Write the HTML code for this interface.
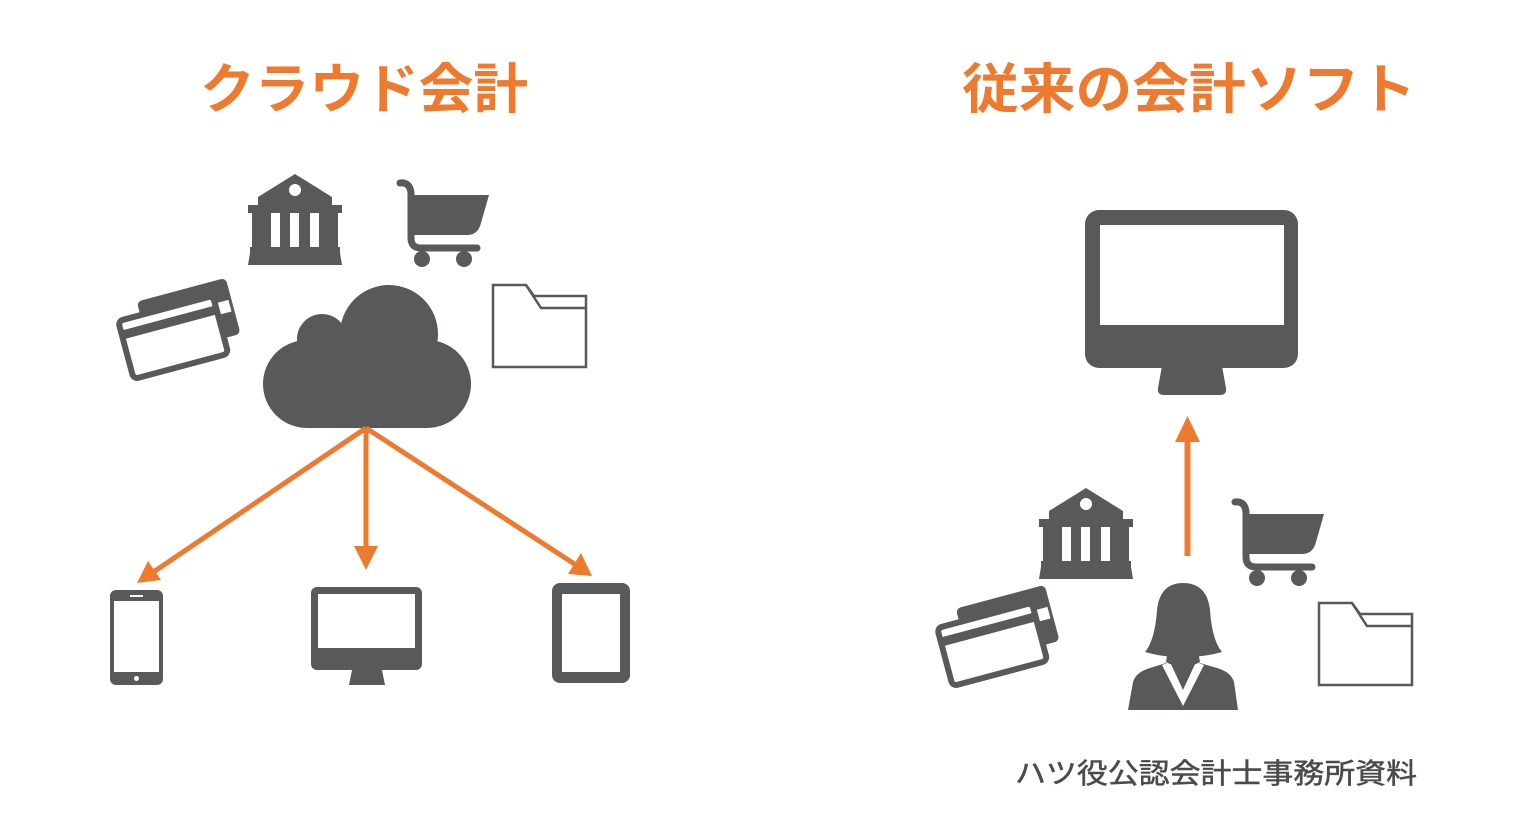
<!DOCTYPE html>
<html><head><meta charset="utf-8"><style>
html,body{margin:0;padding:0;background:#fff;}
svg{display:block;}
text{font-family:"Liberation Sans","Noto Sans CJK JP",sans-serif;}
</style></head><body>
<svg width="1536" height="825" viewBox="0 0 1536 825" xmlns="http://www.w3.org/2000/svg">
<defs>
<g id="bank" fill="#58595b">
  <polygon points="10,23 47,0 84,23 84,31 10,31"/>
  <rect x="0" y="31" width="94" height="8"/>
  <rect x="4" y="39" width="86" height="34"/>
  <rect x="23" y="39" width="9" height="34" fill="#fff"/>
  <rect x="42" y="39" width="9" height="34" fill="#fff"/>
  <rect x="62" y="39" width="9" height="34" fill="#fff"/>
  <rect x="2" y="73" width="90" height="6"/>
  <polygon points="2,79 92,79 94,91 0,91"/>
  <circle cx="47" cy="16" r="6" fill="#fff"/>
</g>
<g id="cart">
  <path d="M3,5 Q13,4 14,15 V60 Q14,70 24,70 H80" fill="none" stroke="#58595b" stroke-width="7" stroke-linecap="round"/>
  <path d="M16,17 H92 L84,45 Q81,57 70,57 H16 Z" fill="#58595b"/>
  <circle cx="25" cy="81" r="8" fill="#58595b"/>
  <circle cx="67" cy="81" r="8" fill="#58595b"/>
</g>
<g id="folder" fill="none" stroke="#58595b" stroke-width="2.5">
  <path d="M0,0 H33 L41,11 H93 V82 H0 Z"/>
  <path d="M33,0 L48,23 H93"/>
</g>
<g id="card">
  <rect x="-32" y="-40" width="92" height="58" rx="5" fill="#58595b"/>
  <rect x="46" y="-18" width="11" height="12" fill="#fff"/>
  <rect x="-55" y="-26" width="98" height="60" rx="5" fill="#fff" stroke="#58595b" stroke-width="6"/>
  <rect x="-55" y="-16" width="98" height="9" fill="#58595b"/>
</g>
</defs>

<text x="364" y="108" font-size="54" font-weight="bold" fill="#ee7a2f" text-anchor="middle" textLength="328" lengthAdjust="spacingAndGlyphs">クラウド会計</text>
<text x="1189" y="108" font-size="54" font-weight="bold" fill="#ee7a2f" text-anchor="middle" textLength="454" lengthAdjust="spacingAndGlyphs">従来の会計ソフト</text>
<text x="1216" y="783" font-size="28" fill="#4a4b4d" stroke="#4a4b4d" stroke-width="0.5" text-anchor="middle" textLength="402" lengthAdjust="spacingAndGlyphs">ハツ役公認会計士事務所資料</text>

<use href="#bank" x="248" y="174"/>
<use href="#cart" x="397" y="178"/>
<use href="#folder" x="493" y="285"/>
<g transform="translate(178,332) rotate(-15)"><use href="#card"/></g>

<g fill="#58595b">
  <circle cx="389" cy="334" r="49"/>
  <circle cx="322" cy="339" r="25"/>
  <circle cx="307" cy="384" r="44"/>
  <circle cx="427" cy="384" r="44"/>
  <rect x="307" y="340" width="120" height="88"/>
</g>

<g stroke="#ee7a2f" stroke-width="5" fill="none">
  <line x1="366" y1="428" x2="152" y2="573"/>
  <line x1="366" y1="428" x2="366" y2="550"/>
  <line x1="366" y1="428" x2="576" y2="565"/>
</g>
<g fill="#ee7a2f">
  <polygon points="137,583 148,561 161,580"/>
  <polygon points="366,570 354,546 378,546"/>
  <polygon points="592,576 568,574 581,553"/>
</g>

<rect x="110" y="590" width="53" height="95" rx="6" fill="#58595b"/>
<rect x="114" y="601" width="45" height="71" fill="#fff"/>
<rect x="130" y="595" width="13" height="2" fill="#fff"/>
<circle cx="136.5" cy="678.5" r="2.5" fill="#fff"/>
<rect x="311" y="587" width="111" height="83" rx="6" fill="#58595b"/>
<rect x="318" y="594" width="97" height="54" fill="#fff"/>
<path d="M352,670 H382 L385,685 H349 Z" fill="#58595b"/>
<rect x="552" y="583" width="78" height="100" rx="8" fill="#58595b"/>
<rect x="562" y="594" width="58" height="78" fill="#fff"/>

<rect x="1085" y="210" width="213" height="158" rx="14" fill="#58595b"/>
<rect x="1100" y="225" width="184" height="100" fill="#fff"/>
<path d="M1162,366 H1222 L1226,388 Q1227,395 1220,395 H1164 Q1157,395 1158,388 Z" fill="#58595b"/>

<rect x="1184.5" y="438" width="6" height="118" fill="#ee7a2f"/>
<polygon points="1187.5,416 1200,442 1175,442" fill="#ee7a2f"/>

<use href="#bank" x="1039" y="488"/>
<use href="#cart" x="1232" y="497"/>
<use href="#folder" x="1319" y="603"/>
<g transform="translate(997,639) rotate(-15)"><use href="#card"/></g>

<g fill="#58595b">
  <path d="M1183,583 Q1160,583 1157,610 Q1155,640 1145,652 Q1165,658 1183,656 Q1201,658 1222,652 Q1212,640 1210,610 Q1207,583 1183,583 Z"/>
  <path d="M1128,710 L1133,682 Q1136,672 1150,668 L1166,663 H1200 L1217,668 Q1231,672 1234,682 L1238,710 Z"/>
</g>
<path d="M1162,665 L1183,706 L1204,665 L1196,662 L1183,690 L1170,662 Z" fill="#fff"/>
<path d="M1166,662 Q1183,672 1200,662 L1198,650 H1168 Z" fill="#58595b"/>
</svg>
</body></html>
